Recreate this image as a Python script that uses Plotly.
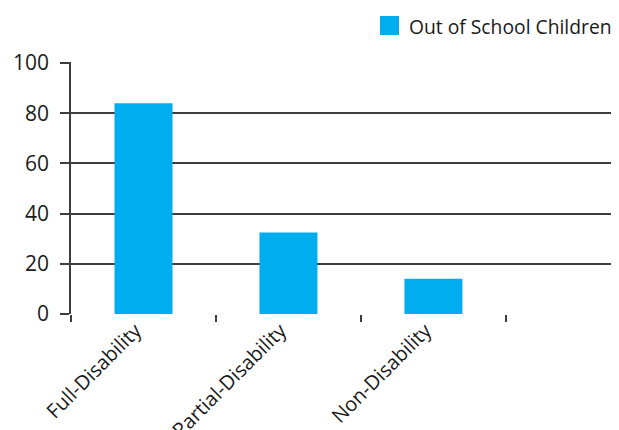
import plotly.graph_objects as go

categories = ["Full-Disability", "Partial-Disability", "Non-Disability"]
values = [84, 32.5, 14]
series_name = "Out of School Children"
y_ticks = [0, 20, 40, 60, 80, 100]

BAR = "#00AEEF"
LINE = "#3d3d3d"
FONT = "Open Sans"

# page has an 8px body margin; figure sized so it fills 619x430 window
OFF = 8
W, H = 619 - OFF, 430 - OFF
ml, mr, mt, mb = 71 - OFF, 0, 62 - OFF, 430 - 314
pw, ph = W - ml - mr, H - mt - mb

def px_x(x):
    return (x - OFF - ml) / pw

def px_y(y):
    return (H - mb - (y - OFF)) / ph

fig = go.Figure()
fig.add_trace(go.Bar(x=categories, y=values, name=series_name,
                     marker=dict(color=BAR, line=dict(width=0)), width=0.4,
                     showlegend=False))

# legend drawn as shape + text
fig.add_shape(type="rect", xref="paper", yref="paper",
              x0=px_x(380), x1=px_x(399), y0=px_y(35), y1=px_y(16),
              fillcolor=BAR, line=dict(width=0))
fig.add_annotation(xref="paper", yref="paper", x=px_x(407), y=px_y(26),
                   text=series_name, showarrow=False, xanchor="left", yanchor="middle",
                   font=dict(family=FONT, size=19.3, color="#1a1a1a"))

fig.update_layout(
    width=W, height=H,
    margin=dict(l=ml, r=mr, t=mt, b=mb, pad=0, autoexpand=False),
    paper_bgcolor="white", plot_bgcolor="white",
    font=dict(family=FONT, color="#1a1a1a"),
    xaxis=dict(type="category", range=[-0.5, 3.28], tickson="boundaries",
               ticks="outside", ticklen=7, tickwidth=1.5, tickcolor=LINE,
               showgrid=False, showline=False, tickangle=-45, automargin=False,
               ticklabelshift=-8,
               tickfont=dict(family=FONT, size=20, color="#1a1a1a")),
    yaxis=dict(range=[0, 100.4], tickvals=y_ticks, ticks="outside", ticklen=9,
               tickwidth=1.5, tickcolor=LINE, showgrid=True, gridcolor=LINE,
               gridwidth=1.5, showline=True, linecolor=LINE, linewidth=1.5,
               zeroline=False, ticklabelstandoff=7, automargin=False,
               tickfont=dict(family=FONT, size=21, color="#1a1a1a")),
)

fig.write_html("out.html")
